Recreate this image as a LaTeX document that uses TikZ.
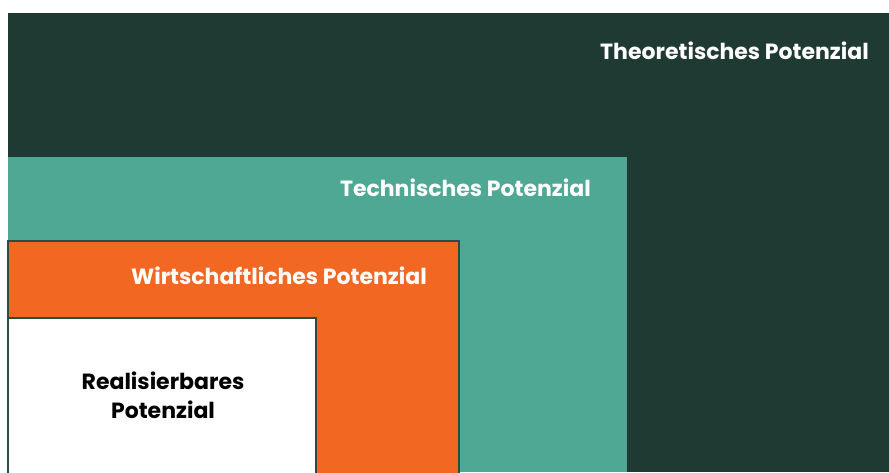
\documentclass[tikz,border=0pt]{standalone}
\usepackage{fontspec}
\setmainfont{Poppins}[Ligatures=CommonOff]
\definecolor{theogreen}{HTML}{1F3A32}
\definecolor{techteal}{HTML}{4EA893}
\definecolor{wirtorange}{HTML}{F26722}
\definecolor{edgegreen}{HTML}{2E4A41}
\tikzset{
  label/.style={font=\fontsize{22}{28}\selectfont\bfseries, inner sep=0pt},
  frame/.style={draw=edgegreen, line width=2.5pt}
}
\begin{document}
\begin{tikzpicture}[x=1pt, y=-1pt]
\useasboundingbox (0,0) rectangle (889,472);
\fill[white] (0,0) rectangle (889,472);

% nested potentials
\fill[theogreen] (8,13) rectangle (889,472);
\fill[techteal] (8,157) rectangle (627,472);
\filldraw[wirtorange, frame] (8,241) rectangle (459,480);
\filldraw[white, frame] (8,318) rectangle (316,480);

\node[label, white, anchor=east] (theo) at (869,51) {Theoretisches Potenzial};
\node[label, white, anchor=east] (tech) at (591,188) {Technisches Potenzial};
\node[label, white, anchor=east] (wirt) at (427,276) {Wirtschaftliches Potenzial};
\node[label, black, align=center, font=\fontsize{22}{29}\selectfont\bfseries] (real) at (163,395) {Realisierbares\\Potenzial};
\end{tikzpicture}
\end{document}
